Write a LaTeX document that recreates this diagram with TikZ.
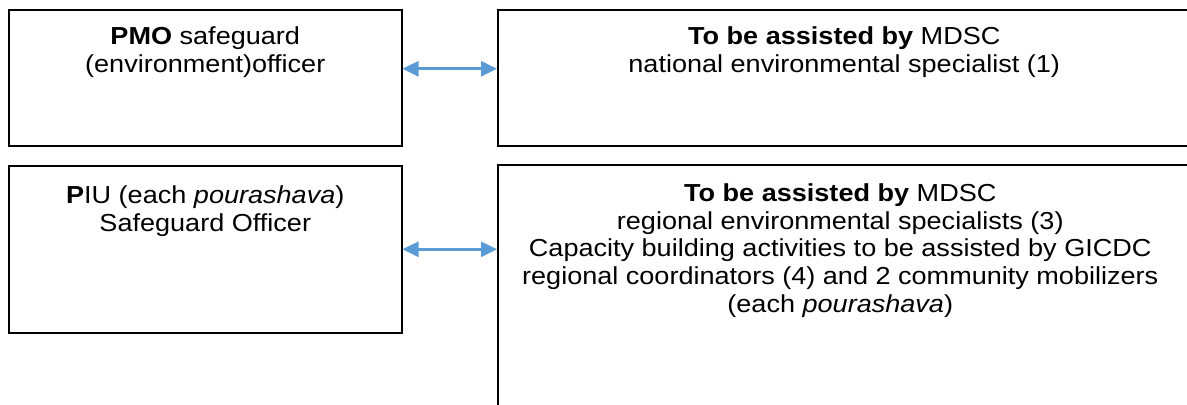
\documentclass[tikz,border=0pt]{standalone}
\usepackage{fontspec}
\setmainfont{Liberation Sans}[FakeStretch=1.1]
\usetikzlibrary{positioning,arrows.meta}
\definecolor{linkblue}{RGB}{91,155,213}

\begin{document}
\begin{tikzpicture}[x=0.5pt,y=-0.5pt,
    box/.style={draw,line width=0.75pt,inner sep=0pt,anchor=north west},
    lbl/.style={align=center,inner sep=0pt,font=\fontsize{12.3}{13.9}\selectfont},
    link/.style={{Triangle[length=8pt,width=7.5pt]}-{Triangle[length=8pt,width=7.5pt]},
      line width=1.3pt,linkblue}]
    \useasboundingbox (0,0) rectangle (1187,404);
    \clip (0,0) rectangle (1187,404);

    % Boxes (right column runs past the page edge)
    \node[box,minimum width=196.5pt,minimum height=68pt] (pmo) at (8,9) {};
    \node[box,minimum width=346.5pt,minimum height=68pt] (mdscnat) at (497,9) {};
    \node[box,minimum width=196.5pt,minimum height=83.5pt] (piu) at (8,165) {};
    \node[box,minimum width=346.5pt,minimum height=148pt] (mdscreg) at (497,164) {};

    % Texts
    \node[lbl,below=8.5pt of pmo.north] (pmotxt)
      {\textbf{PMO} safeguard\\(environment)officer};
    \node[lbl,below=8.5pt of mdscnat.north] (nattxt)
      {\textbf{To be assisted by} MDSC\\national environmental specialist (1)};
    \node[lbl,below=10pt of piu.north] (piutxt)
      {\textbf{P}IU (each \textit{pourashava})\\Safeguard Officer};
    \node[lbl,below=9.5pt of mdscreg.north,xshift=-2pt] (regtxt)
      {\textbf{To be assisted by} MDSC\\
       regional environmental specialists (3)\\
       Capacity building activities to be assisted by GICDC\\
       regional coordinators (4) and 2 community mobilizers\\
       (each \textit{pourashava})};

    % Links
    \draw[link] ([yshift=4.5pt]pmo.east) -- ([yshift=4.5pt]pmo.east -| mdscnat.west);
    \draw[link] (piu.east) -- (piu.east -| mdscreg.west);
\end{tikzpicture}
\end{document}
